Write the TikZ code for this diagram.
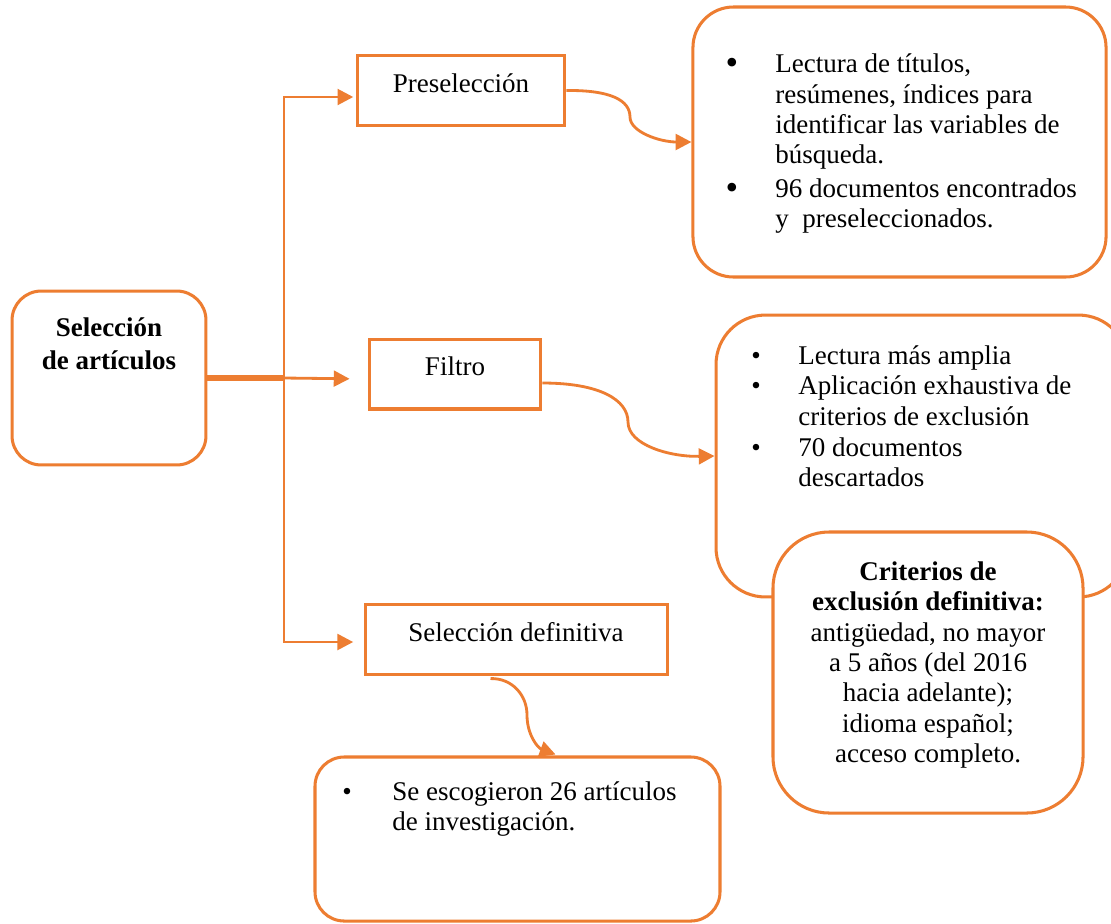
\documentclass[tikz,border=0pt]{standalone}
\usepackage{fontspec}
\setmainfont{Liberation Serif}
\usetikzlibrary{arrows.meta,calc}
\definecolor{ora}{HTML}{ED7D31}
\begin{document}
\begin{tikzpicture}[x=0.44444pt,y=-0.44444pt,
  box/.style={draw=ora,line width=1.35pt,fill=white,inner sep=0pt},
  rbox/.style={box,rounded corners=#1},
  conn/.style={draw=ora,line width=1.25pt,-{Triangle[length=7pt,width=7pt]}},
  txt/.style={inner sep=0pt,font=\fontsize{12}{13.8}\selectfont,anchor=base west},
  ctxt/.style={txt,anchor=base},
  bul/.style={inner sep=0pt,font=\fontsize{12}{13.8}\selectfont,anchor=base},
  bigbul/.style={inner sep=0pt,font=\fontsize{16}{13.8}\selectfont,anchor=base}]
\clip (0,0) rectangle (1111,923);
\fill[white] (0,0) rectangle (1111,923);
% boxes
\node[rbox=13pt,minimum width=86.2pt,minimum height=77.3pt] (sel) at (109,378) {};
\node[box,minimum width=92.4pt,minimum height=30.7pt] (pre) at (461,90.5) {};
\node[box,minimum width=76.4pt,minimum height=31.1pt] (fil) at (455,374) {};
\node[box,minimum width=133.8pt,minimum height=30.7pt] (def) at (516.5,639.5) {};
\node[rbox=13pt,minimum width=180pt,minimum height=72.9pt] (res) at (517.5,839) {};
\node[rbox=18pt,minimum width=183.6pt,minimum height=120pt] (prd) at (899.5,142) {};
\node[rbox=22pt,minimum width=183.1pt,minimum height=125.3pt] (fild) at (922,456) {};
\node[rbox=25pt,minimum width=137.8pt,minimum height=124.9pt] (crit) at (928,672.5) {};
% texts in small boxes
\node[ctxt,font=\fontsize{12}{13.8}\selectfont\bfseries] (selt1) at (109,336) {Selección};
\node[ctxt,font=\fontsize{12}{13.8}\selectfont\bfseries] (selt2) at (109,369) {de artículos};
\node[ctxt] (pret) at (461,92) {Preselección};
\node[ctxt] (filt) at (455,375) {Filtro};
\node[ctxt] (deft) at (516,641) {Selección definitiva};
% preselection details
\node[bigbul] (pb1) at (732,74) {•};
\node[bigbul] (pb2) at (732,199) {•};
\node[txt] (pl1) at (775,72) {Lectura de títulos,};
\node[txt] (pl2) at (775,103) {resúmenes, índices para};
\node[txt] (pl3) at (775,133) {identificar las variables de};
\node[txt] (pl4) at (775,163) {búsqueda.};
\node[txt] (pl5) at (775,197) {96 documentos encontrados};
\node[txt] (pl6) at (775,227) {y~~preseleccionados.};
% filter details
\node[bul] (fb1) at (756,364) {•};
\node[bul] (fb2) at (756,394) {•};
\node[bul] (fb3) at (756,456) {•};
\node[txt] (fl1) at (798,364) {Lectura más amplia};
\node[txt] (fl2) at (798,394) {Aplicación exhaustiva de};
\node[txt] (fl3) at (798,425) {criterios de exclusión};
\node[txt] (fl4) at (798,456) {70 documentos};
\node[txt] (fl5) at (798,486) {descartados};
% criteria
\node[ctxt,font=\fontsize{12}{13.8}\selectfont\bfseries] (cl1) at (928,580) {Criterios de};
\node[ctxt,font=\fontsize{12}{13.8}\selectfont\bfseries] (cl2) at (928,610.5) {exclusión definitiva:};
\node[ctxt] (cl3) at (928,641) {antigüedad, no mayor};
\node[ctxt] (cl4) at (928,671) {a 5 años (del 2016};
\node[ctxt] (cl5) at (928,701.5) {hacia adelante);};
\node[ctxt] (cl6) at (928,732) {idioma español;};
\node[ctxt] (cl7) at (928,762.5) {acceso completo.};
% result
\node[bul] (rb1) at (347,800) {•};
\node[txt] (rl1) at (392,800) {Se escogieron 26 artículos};
\node[txt] (rl2) at (392,830.5) {de investigación.};
% connectors
\coordinate (trunk) at (284,378);
\draw[draw=ora,line width=2.6pt] (sel.east) -- (trunk);
\draw[conn,shorten >=1pt] (trunk) |- ($(pre.west)+(0,6.5)$);
\draw[conn,shorten >=8pt] (trunk) -- ($(fil.west)+(0,5)$);
\draw[conn,shorten >=5pt] (trunk) |- ($(def.west)+(0,2.5)$);
\draw[conn] (pre.east) .. controls (610,90) and (630,100) .. (630,117)
   .. controls (630,132) and (660,142) .. (prd.west);
\draw[conn] ($(fil.east)+(0,9)$) .. controls (600,383) and (628,400) .. (628,422)
   .. controls (628,445) and (670,457) .. (fild.west);
\draw[conn] ($(def.south)+(-26,3)$) .. controls (512,678) and (527,695) .. (527,715)
   .. controls (527,735) and (538,748) .. ($(res.north)+(38,-1)$);
\end{tikzpicture}
\end{document}
